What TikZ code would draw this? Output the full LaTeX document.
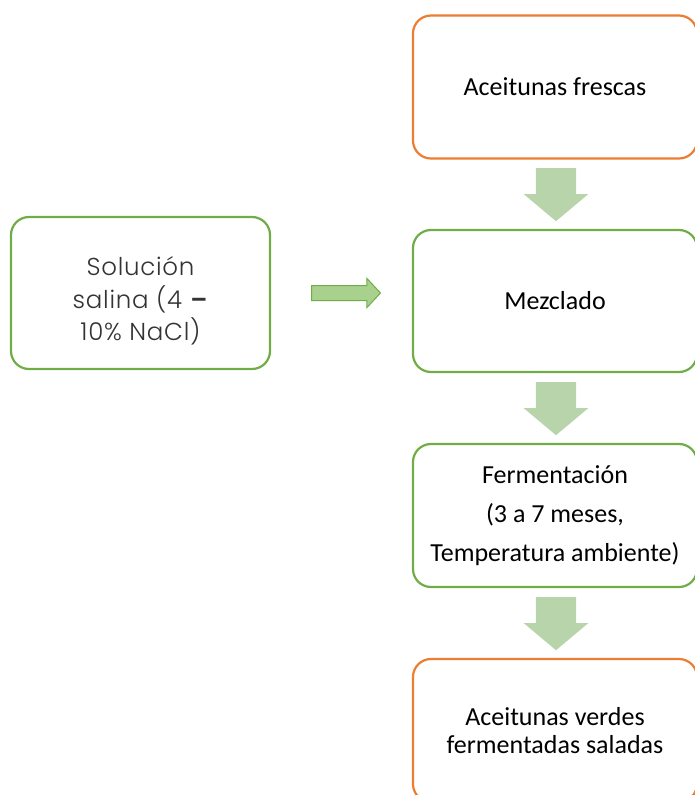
\documentclass[tikz,border=0pt]{standalone}
\usepackage{fontspec}
\setmainfont{Carlito}
\IfFontExistsTF{Poppins Light}{\newfontfamily\leftfont[LetterSpace=3]{Poppins Light}}{\newfontfamily\leftfont[LetterSpace=3]{Poppins}}
\usetikzlibrary{shapes.arrows}
\definecolor{borange}{HTML}{ED7D31}
\definecolor{bgreen}{HTML}{70AD47}
\definecolor{agreen}{RGB}{184,212,170}
\definecolor{rgreen}{HTML}{A9D18E}
\begin{document}
\begin{tikzpicture}[x=1pt,y=-1pt,
  box/.style={draw, line width=2.2pt, rounded corners=18pt, minimum width=284pt,
    minimum height=143pt, align=center, font=\fontsize{26}{39}\selectfont, inner sep=0pt},
  obox/.style={box, draw=borange},
  gbox/.style={box, draw=bgreen},
  downarrow/.style={single arrow, fill=agreen, draw=none, inner xsep=0pt, inner ysep=20pt,
    minimum height=53pt, single arrow head extend=12pt, single arrow tip angle=100,
    single arrow head indent=0pt, rotate=-90, anchor=tail},
  rightarrow/.style={single arrow, fill=rgreen, draw=bgreen, line width=1pt, inner xsep=0pt,
    inner ysep=7pt, minimum height=69pt, single arrow head extend=7pt,
    single arrow tip angle=94, single arrow head indent=0pt, anchor=tail}]
\useasboundingbox (0,0) rectangle (695,795);
\node[obox] (fresh) at (555,87) {Aceitunas frescas};
\node[gbox, minimum height=142pt] (mix) at (555,301) {Mezclado};
\node[gbox] (ferm) at (555,515.5) {Fermentación\\(3 a 7 meses,\\Temperatura ambiente)};
\node[obox, font=\fontsize{26}{28.5}\selectfont] (final) at (555,730.5) {Aceitunas verdes\\fermentadas saladas};
\node[gbox, minimum width=259pt, minimum height=152pt, text=black!80,
  font=\leftfont\fontsize{24.5}{32.5}\selectfont] (salt) at (140.5,293)
  {\raisebox{-15pt}[0pt][0pt]{\begin{tabular}{@{}c@{}}Solución\\salina (4 \textbf{–}\\10\% NaCl)\end{tabular}}};
\node[downarrow] (a1) at (556,168) {};
\node[downarrow] (a2) at (556,382) {};
\node[downarrow] (a3) at (556,597) {};
\node[rightarrow] (ar) at (311,293) {};
\end{tikzpicture}
\end{document}
